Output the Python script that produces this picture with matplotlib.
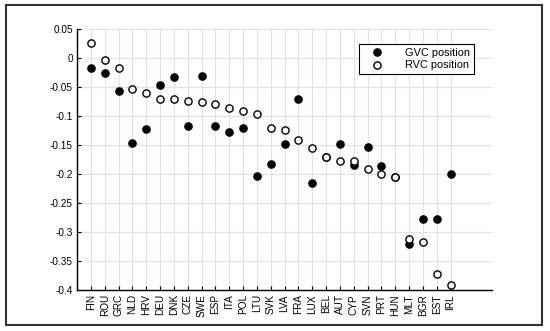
import numpy as np
import matplotlib.pyplot as plt
from matplotlib.patches import Rectangle

plt.rcParams['font.family'] = ['Liberation Sans', 'DejaVu Sans']

countries = ['FIN', 'ROU', 'GRC', 'NLD', 'HRV', 'DEU', 'DNK', 'CZE', 'SWE', 'ESP',
             'ITA', 'POL', 'LTU', 'SVK', 'LVA', 'FRA', 'LUX', 'BEL', 'AUT', 'CYP',
             'SVN', 'PRT', 'HUN', 'MLT', 'BGR', 'EST', 'IRL']

gvc_position = [-0.018, -0.026, -0.057, -0.147, -0.123, -0.047, -0.033, -0.118, -0.031, -0.117,
                -0.128, -0.121, -0.203, -0.183, -0.148, -0.071, -0.216, -0.170, -0.148, -0.185,
                -0.153, -0.186, -0.205, -0.320, -0.278, -0.278, -0.200]

rvc_position = [0.026, -0.004, -0.017, -0.053, -0.060, -0.070, -0.071, -0.074, -0.075, -0.080,
                -0.087, -0.091, -0.097, -0.120, -0.124, -0.142, -0.156, -0.171, -0.178, -0.178,
                -0.192, -0.200, -0.205, -0.312, -0.317, -0.372, -0.392]

fig = plt.figure(figsize=(5.5, 3.31), dpi=100)
ax = fig.add_axes([77 / 550, 1 - 290 / 331, 415 / 550, 261 / 331])

x = np.arange(1, len(countries) + 1)
ax.plot(x, gvc_position, 'o', color='black', markersize=5.2, label='GVC position', zorder=3)
ax.plot(x, rvc_position, 'o', markerfacecolor='white', markeredgecolor='black',
        markeredgewidth=1.0, markersize=5.2, label='RVC position', zorder=4)

ax.set_xlim(0, 30)
ax.set_ylim(-0.4, 0.05)
ax.set_xticks(x)
ax.set_xticklabels(countries, rotation=90, fontsize=7.2)
ax.set_yticks(np.arange(-0.4, 0.051, 0.05))
ax.set_yticklabels(['-0.4', '-0.35', '-0.3', '-0.25', '-0.2', '-0.15', '-0.1', '-0.05', '0', '0.05'],
                   fontsize=7.2)
ax.tick_params(direction='in', length=3, width=0.8, pad=3)

ax.grid(True, color='#e2e2e2', linewidth=0.8)
ax.set_axisbelow(True)
ax.spines['top'].set_visible(False)
ax.spines['right'].set_visible(False)
ax.spines['left'].set_linewidth(1.0)
ax.spines['bottom'].set_linewidth(1.0)

leg = ax.legend(loc='upper right', bbox_to_anchor=(0.969, 0.962), fontsize=7.9,
                fancybox=False, framealpha=1, edgecolor='black', handlelength=2.6,
                handletextpad=1.3, borderpad=0.3, labelspacing=0.25, numpoints=1)
leg.get_frame().set_linewidth(0.8)

# outer border around the whole figure
fig.patches.append(Rectangle((6 / 550, 1 - 325 / 331), 536 / 550, 320 / 331,
                             transform=fig.transFigure, fill=False,
                             edgecolor='#333333', linewidth=1.5))

fig.savefig('out.png', dpi=100)
